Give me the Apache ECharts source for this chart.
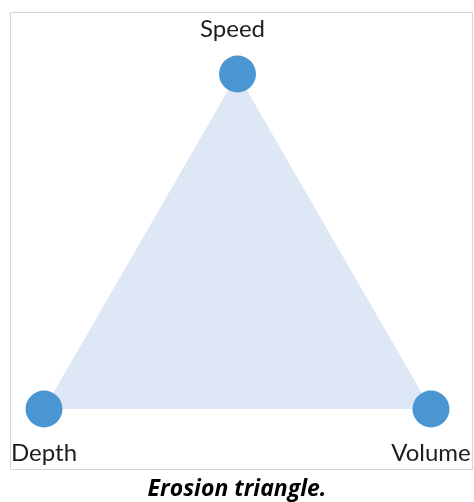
<!DOCTYPE html>
<html><head><meta charset="utf-8">
<script src="https://cdn.jsdelivr.net/npm/echarts@6/dist/echarts.min.js"></script>
<style>html,body{margin:0;padding:0;background:#fff}#c{width:474px;height:502px}</style>
</head><body><div id="c"></div>
<script>
var names = ['Depth', 'Speed', 'Volume'];
var xs = [0, 0.5, 1];
var ys = [0, 1, 0];
var caption = 'Erosion triangle.';

var pts = names.map(function (n, i) { return [xs[i], ys[i], n]; });
var chart = echarts.init(document.getElementById('c'), null, {renderer: 'canvas'});
chart.setOption({
  animation: false,
  backgroundColor: '#ffffff',
  title: {
    text: caption, left: 'center', top: 473,
    textStyle: {fontFamily: 'Open Sans', fontStyle: 'italic', fontWeight: 'bold', fontSize: 23, color: '#000'}
  },
  graphic: [{
    type: 'rect', shape: {x: 10.5, y: 12.5, width: 462, height: 457},
    style: {fill: 'none', stroke: '#d8d4c6', lineWidth: 1}, z: -10
  }],
  grid: {left: 44, right: 43, top: 74, bottom: 93},
  xAxis: {type: 'value', min: 0, max: 1, show: false},
  yAxis: {type: 'value', min: 0, max: 1, show: false},
  series: [{
    type: 'custom',
    renderItem: function (params, api) {
      if (params.dataIndex !== 0) return null;
      var poly = pts.map(function (p) { return api.coord([p[0], p[1]]); });
      return {type: 'polygon', shape: {points: poly}, style: {fill: '#dee7f6'}};
    },
    data: pts,
    z: 1
  }, {
    type: 'scatter',
    symbolSize: 37,
    itemStyle: {color: '#4a96d2', opacity: 1},
    data: pts.map(function (p) {
      var top = p[2] === 'Speed';
      return {
        value: [p[0], p[1]], name: p[2],
        label: {
          show: true, formatter: p[2],
          position: top ? 'top' : 'bottom',
          distance: 14,
          offset: top ? [-5, 0] : [0, 0],
          fontFamily: 'Lato', fontSize: 24, color: '#1e1e1e'
        }
      };
    }),
    z: 2
  }]
});
</script></body></html>
